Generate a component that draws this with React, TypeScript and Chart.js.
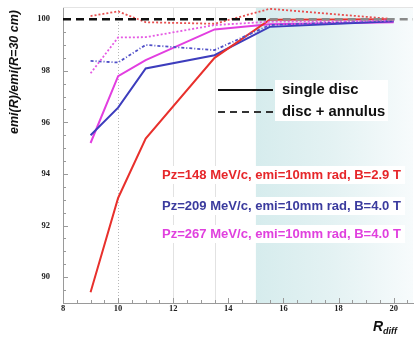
import React, { useEffect, useRef } from "react";
import { Chart, registerables } from "chart.js";
Chart.register(...registerables);

const rDiff = [9, 10, 11, 13.5, 15.5, 20];
const red148Single = [89.42, 93.07, 95.37, 98.5, 99.98, 100.0];
const blue209Single = [95.5, 96.57, 98.09, 98.6, 99.7, 99.92];
const mag267Single = [95.2, 97.79, 98.41, 99.6, 99.8, 99.88];
const red148Annulus = [100.12, 100.3, 99.88, 99.82, 100.4, 100.0];
const blue209Annulus = [98.38, 98.32, 99.0, 98.8, 99.77, 99.95];
const mag267Annulus = [97.9, 99.29, 99.3, 99.77, 99.9, 99.95];
const refX = [8, 15.5, 20.7];
const refY = [100, 100, 100];
const xTicks = [8, 10, 12, 14, 16, 18, 20];
const yTicks = [90, 92, 94, 96, 98, 100];
const vLines = [10, 12, 13.5];
const shadeStart = 15;
const legendLabels = ["single disc", "disc + annulus"];
const noteLabels = [
  "Pz=148 MeV/c, emi=10mm rad, B=2.9 T",
  "Pz=209 MeV/c, emi=10mm rad, B=4.0 T",
  "Pz=267 MeV/c, emi=10mm rad, B=4.0 T",
];
const noteColors = ["#e6262a", "#3b3b9e", "#e040de"];

const RED = "#e8302c";
const BLUE = "#3d3dbd";
const MAG = "#e23ee0";
const SANS = "'Liberation Sans', Arial, sans-serif";
const SERIF = "'Liberation Serif', 'Times New Roman', serif";

const pts = (ys: number[]) => rDiff.map((x, i) => ({ x, y: ys[i] }));

const decor = {
  id: "decor",
  beforeDatasetsDraw(chart: any) {
    const { ctx, chartArea: a, scales } = chart;
    const xs = scales.x, ys = scales.y;
    ctx.save();
    const sx = xs.getPixelForValue(shadeStart);
    const g = ctx.createLinearGradient(sx, 0, a.right, 0);
    g.addColorStop(0, "rgb(214,236,237)");
    g.addColorStop(0.5, "rgb(228,242,243)");
    g.addColorStop(1, "rgb(247,251,252)");
    ctx.fillStyle = g;
    ctx.fillRect(sx, a.top, a.right - sx, a.bottom - a.top);
    vLines.forEach((v, i) => {
      const px = Math.round(xs.getPixelForValue(v)) + 0.5;
      ctx.beginPath();
      ctx.strokeStyle = i === 0 ? "#b8b8b8" : "#e2e2e2";
      ctx.lineWidth = 1;
      ctx.setLineDash(i === 0 ? [1, 2] : []);
      ctx.moveTo(px, a.top);
      ctx.lineTo(px, a.bottom);
      ctx.stroke();
    });
    ctx.setLineDash([]);
    ctx.strokeStyle = "#e4e4e4";
    ctx.beginPath();
    ctx.moveTo(a.left, a.top + 0.5);
    ctx.lineTo(a.right, a.top + 0.5);
    ctx.stroke();
    ctx.strokeStyle = "#9a9a9a";
    for (let v = 89; v <= 100.4; v += 0.5) {
      const py = Math.round(ys.getPixelForValue(v)) + 0.5;
      const len = v % 2 === 0 ? 5 : 3;
      ctx.beginPath();
      ctx.moveTo(a.left, py);
      ctx.lineTo(a.left + len, py);
      ctx.stroke();
    }
    for (let v = 8; v <= 20.6; v += 0.5) {
      const px = Math.round(xs.getPixelForValue(v)) + 0.5;
      const len = v % 2 === 0 ? 5 : 3;
      ctx.beginPath();
      ctx.moveTo(px, a.bottom);
      ctx.lineTo(px, a.bottom - len);
      ctx.stroke();
    }
    ctx.fillStyle = "#222";
    ctx.font = `bold 8.5px ${SERIF}`;
    ctx.textBaseline = "middle";
    ctx.textAlign = "right";
    yTicks.forEach((v) => ctx.fillText(String(v), a.left - 13, ys.getPixelForValue(v)));
    ctx.textAlign = "center";
    ctx.textBaseline = "top";
    xTicks.forEach((v) => ctx.fillText(String(v), xs.getPixelForValue(v), a.bottom + 2));
    ctx.restore();
  },
  afterDraw(chart: any) {
    const { ctx } = chart;
    ctx.save();
    ctx.fillStyle = "#ffffff";
    ctx.fillRect(275, 80, 113, 41);
    ctx.strokeStyle = "#111";
    ctx.lineWidth = 2;
    ctx.beginPath();
    ctx.moveTo(218, 90);
    ctx.lineTo(273, 90);
    ctx.stroke();
    ctx.setLineDash([7, 5]);
    ctx.strokeStyle = "#333";
    ctx.beginPath();
    ctx.moveTo(218, 112);
    ctx.lineTo(273, 112);
    ctx.stroke();
    ctx.setLineDash([]);
    ctx.fillStyle = "#111";
    ctx.font = `bold 14.8px ${SANS}`;
    ctx.textBaseline = "middle";
    ctx.textAlign = "left";
    ctx.fillText(legendLabels[0], 282, 90);
    ctx.fillText(legendLabels[1], 282, 112);
    ctx.font = `bold 10px ${SANS}`;
    const w10 = ctx.measureText(noteLabels[0]).width;
    const fs = (10 * 239) / w10;
    ctx.font = `bold ${fs.toFixed(2)}px ${SANS}`;
    const ny = [175, 206, 234];
    noteLabels.forEach((t, i) => {
      const w = ctx.measureText(t).width;
      ctx.fillStyle = "#ffffff";
      ctx.fillRect(160, ny[i] - 9, w + 6, 18);
      ctx.fillStyle = noteColors[i];
      ctx.fillText(t, 162, ny[i]);
    });
    ctx.fillStyle = "#111";
    ctx.font = `italic bold 12.5px ${SANS}`;
    ctx.translate(15, 72);
    ctx.rotate(-Math.PI / 2);
    ctx.textAlign = "center";
    ctx.fillText("emi(R)/emi(R=30 cm)", 0, 0);
    ctx.setTransform(1, 0, 0, 1, 0, 0);
    ctx.textAlign = "left";
    ctx.textBaseline = "alphabetic";
    ctx.font = `italic bold 14px ${SANS}`;
    ctx.fillText("R", 373, 331);
    const rw = ctx.measureText("R").width;
    ctx.font = `italic bold 9px ${SANS}`;
    ctx.fillText("diff", 373 + rw, 334);
    ctx.restore();
  },
};

export default function App() {
  const ref = useRef<HTMLCanvasElement>(null);
  useEffect(() => {
    if (!ref.current) return;
    const chart = new Chart(ref.current, {
      type: "line",
      data: {
        datasets: [
          {
            data: refX.map((x, i) => ({ x, y: refY[i] })),
            borderColor: "#111",
            borderWidth: 2.5,
            borderDash: [8, 5],
            pointRadius: 0,
            segment: { borderColor: (c: any) => (c.p0.parsed.x >= 15.5 ? "#8a8a8a" : "#111") },
          },
          { data: pts(red148Annulus), borderColor: "#e85050", borderWidth: 1.8, borderDash: [2, 2], pointRadius: 0 },
          { data: pts(mag267Annulus), borderColor: "#e55ae3", borderWidth: 1.8, borderDash: [2, 2], pointRadius: 0 },
          { data: pts(blue209Annulus), borderColor: "#5050c8", borderWidth: 1.8, borderDash: [3, 2, 1, 2], pointRadius: 0 },
          { data: pts(red148Single), borderColor: RED, borderWidth: 2, pointRadius: 0 },
          { data: pts(blue209Single), borderColor: BLUE, borderWidth: 2, pointRadius: 0 },
          { data: pts(mag267Single), borderColor: MAG, borderWidth: 2, pointRadius: 0 },
        ],
      },
      options: {
        animation: false,
        responsive: false,
        layout: { padding: { left: 0, top: 7, right: 3, bottom: 0 } },
        plugins: { legend: { display: false }, tooltip: { enabled: false } },
        scales: {
          x: {
            type: "linear",
            min: 8,
            max: 20.7,
            grid: { display: false },
            border: { display: true, color: "#9a9a9a", width: 1 },
            afterFit: (s: any) => { s.height = 42; },
            ticks: { display: false },
          },
          y: {
            type: "linear",
            min: 89,
            max: 100.47,
            grid: { display: false },
            border: { display: true, color: "#9a9a9a", width: 1 },
            afterFit: (s: any) => { s.width = 63; },
            ticks: { display: false },
          },
        },
      },
      plugins: [decor],
    });
    return () => chart.destroy();
  }, []);
  return (
    <div style={{ position: "fixed", left: 0, top: 0, width: 416, height: 345, background: "#fff" }}>
      <canvas ref={ref} width={416} height={345} style={{ width: 416, height: 345 }} />
    </div>
  );
}
